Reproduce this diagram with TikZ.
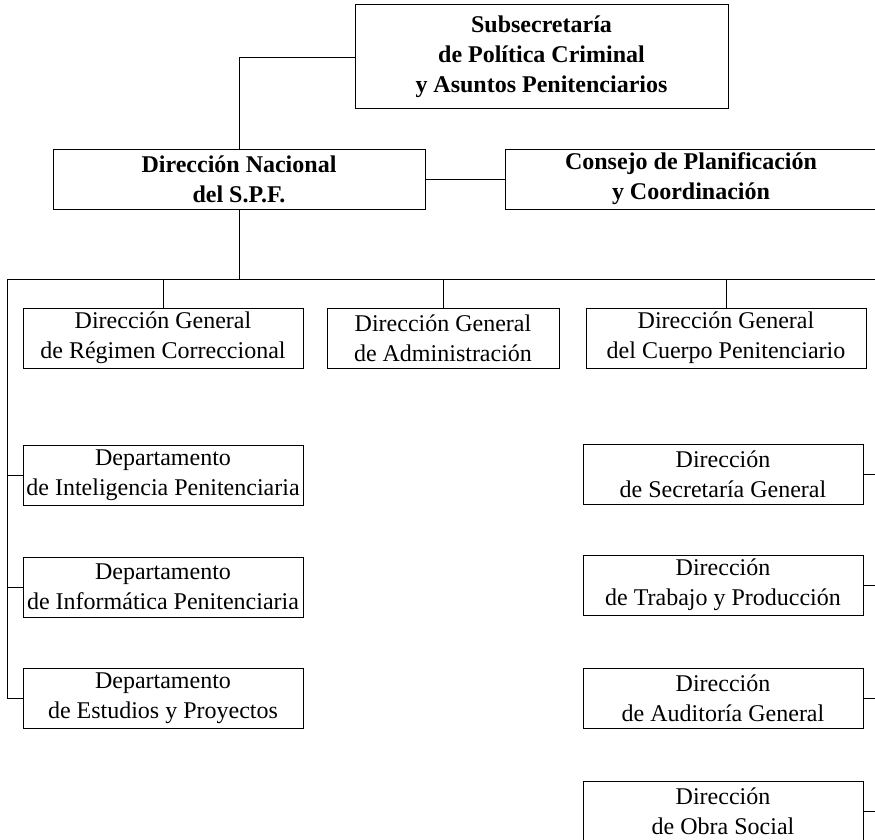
\documentclass[tikz,border=0pt]{standalone}
\usepackage{fontspec}
\setmainfont{Liberation Serif}
\begin{document}
\begin{tikzpicture}[x=1pt,y=-1pt,
  box/.style={draw,line width=1pt,align=center,inner sep=0pt,font=\fontsize{24}{30}\selectfont,minimum height=60pt},
  bbox/.style={box,font=\bfseries\fontsize{24}{30}\selectfont},
  link/.style={line width=0.8pt}]
\useasboundingbox (0,0) rectangle (875,840);
\node[bbox,minimum width=373pt,minimum height=104pt] (sub) at (541.5,57) {Subsecretaría\\de Política Criminal\\y Asuntos Penitenciarios};
\node[bbox,minimum width=372pt] (dn) at (239,179) {Dirección Nacional\\del S.P.F.};
\node[bbox,minimum width=372pt] (cons) at (691,179) {Consejo de Planificación\\y Coordinación};
\node[box,minimum width=280pt] (reg) at (163,338) {Dirección General\\de Régimen Correccional};
\node[box,minimum width=232pt] (adm) at (443,338) {Dirección General\\de Administración};
\node[box,minimum width=280pt] (cue) at (726,338) {Dirección General\\del Cuerpo Penitenciario};
\node[box,minimum width=280pt] (d1) at (163,475) {Departamento\\de Inteligencia Penitenciaria};
\node[box,minimum width=280pt] (d2) at (163,587) {Departamento\\de Informática Penitenciaria};
\node[box,minimum width=280pt] (d3) at (163,698.5) {Departamento\\de Estudios y Proyectos};
\node[box,minimum width=280pt] (r1) at (723,474) {Dirección\\de Secretaría General};
\node[box,minimum width=280pt] (r2) at (723,585) {Dirección\\de Trabajo y Producción};
\node[box,minimum width=280pt] (r3) at (723,698) {Dirección\\de Auditoría General};
\node[box,minimum width=280pt] (r4) at (723,811) {Dirección\\de Obra Social};
\coordinate (busL) at (7,279);
\coordinate (busR) at (885,279);
\coordinate (bus) at (239,279);
\coordinate (rr) at (885,0);
\draw[link] (sub.west) -| (dn.north);
\draw[link] (dn.east) -- (cons.west);
\draw[link] (dn.south) -- (bus);
\draw[link] (busL) -- (busR);
\draw[link] (reg.north) -- (reg.north |- busL);
\draw[link] (adm.north) -- (adm.north |- busL);
\draw[link] (cue.north) -- (cue.north |- busL);
\draw[link] (busL) |- (d3.west);
\draw[link] (d1.west) -- (d1.west -| busL);
\draw[link] (d2.west) -- (d2.west -| busL);
\foreach \n in {r1,r2,r3,r4} \draw[link] (\n.east) -- (\n.east -| rr);
\end{tikzpicture}
\end{document}
